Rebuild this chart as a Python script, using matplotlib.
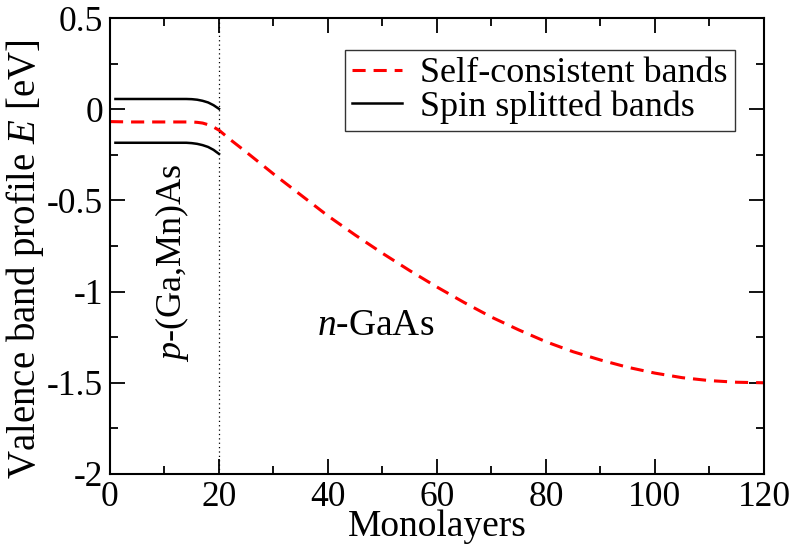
import matplotlib
matplotlib.use("Agg")
import matplotlib.pyplot as plt
from matplotlib.ticker import MultipleLocator

plt.rcParams['font.family'] = ['Liberation Serif', 'DejaVu Serif']
plt.rcParams['mathtext.fontset'] = 'custom'
plt.rcParams['mathtext.rm'] = 'Liberation Serif'
plt.rcParams['mathtext.it'] = 'Liberation Serif:italic'

# self-consistent valence band (red dashed)
x_sc = [0, 4, 8, 12, 15, 16, 17, 18, 19, 20, 22, 25, 30, 35, 40, 45, 50, 55,
        60, 65, 70, 75, 80, 85, 90, 95, 100, 105, 110, 115, 120]
e_sc = [-0.068, -0.07, -0.07, -0.07, -0.07, -0.072, -0.076, -0.085, -0.098, -0.115,
        -0.165, -0.235, -0.355, -0.47, -0.585, -0.69, -0.79, -0.885,
        -0.975, -1.06, -1.14, -1.21, -1.275, -1.33, -1.375, -1.415, -1.447, -1.472,
        -1.488, -1.497, -1.50]

# spin split bands in the p-(Ga,Mn)As layer (black)
x_spin = [1, 4, 8, 12, 14, 15, 16, 17, 18, 19, 20]
e_up = [0.056, 0.056, 0.056, 0.056, 0.056, 0.055, 0.052, 0.046, 0.037, 0.022, 0.002]
e_dn = [-0.184, -0.184, -0.184, -0.184, -0.184, -0.186, -0.19, -0.197, -0.207, -0.223, -0.245]

interface = 20

fig = plt.figure(figsize=(7.89, 5.44), dpi=100)
ax = fig.add_axes([0.1394, 0.1287, 0.8289, 0.8382])

ax.plot(x_sc, e_sc, color='red', lw=2.2, dashes=(4.3, 2.6), label='Self-consistent bands')
ax.plot(x_spin, e_up, color='black', lw=1.8, label='Spin splitted bands')
ax.plot(x_spin, e_dn, color='black', lw=1.8)
ax.axvline(interface, color='black', lw=0.9, ls=(0, (1, 2.5)))

ax.set_xlim(0, 120)
ax.set_ylim(-2, 0.5)
ax.xaxis.set_major_locator(MultipleLocator(20))
ax.xaxis.set_minor_locator(MultipleLocator(10))
ax.yaxis.set_major_locator(MultipleLocator(0.5))
ax.yaxis.set_minor_locator(MultipleLocator(0.25))
ax.set_yticks([0.5, 0, -0.5, -1, -1.5, -2])
ax.set_yticklabels(['0.5', '0', '-0.5', '-1', '-1.5', '-2'])

ax.tick_params(which='both', direction='in', top=True, right=True, labelsize=25.5)
ax.tick_params(which='major', length=11, width=1.3, pad=5)
ax.tick_params(which='minor', length=6, width=1.3)
for s in ax.spines.values():
    s.set_linewidth(1.5)

ax.set_xlabel('Monolayers', fontsize=27, labelpad=-3)
ax.set_ylabel(r'Valence band profile $E$ [eV]', fontsize=28)
ax.yaxis.set_label_coords(-0.098, 0.471)

ax.text(11.4, -0.84, r'$p$-(Ga,Mn)As', rotation=90, fontsize=26, ha='center', va='center')
ax.text(48.8, -1.19, r'$n$-GaAs', fontsize=27, ha='center', va='center')

leg = ax.legend(loc='upper right', bbox_to_anchor=(0.956, 0.93), fontsize=26,
                frameon=True, fancybox=False, handlelength=1.4, handletextpad=0.5,
                borderpad=0.2, labelspacing=0.0, borderaxespad=0)
leg.get_frame().set_edgecolor('black')
leg.get_frame().set_linewidth(1.0)

fig.savefig('out.png', dpi=100)
